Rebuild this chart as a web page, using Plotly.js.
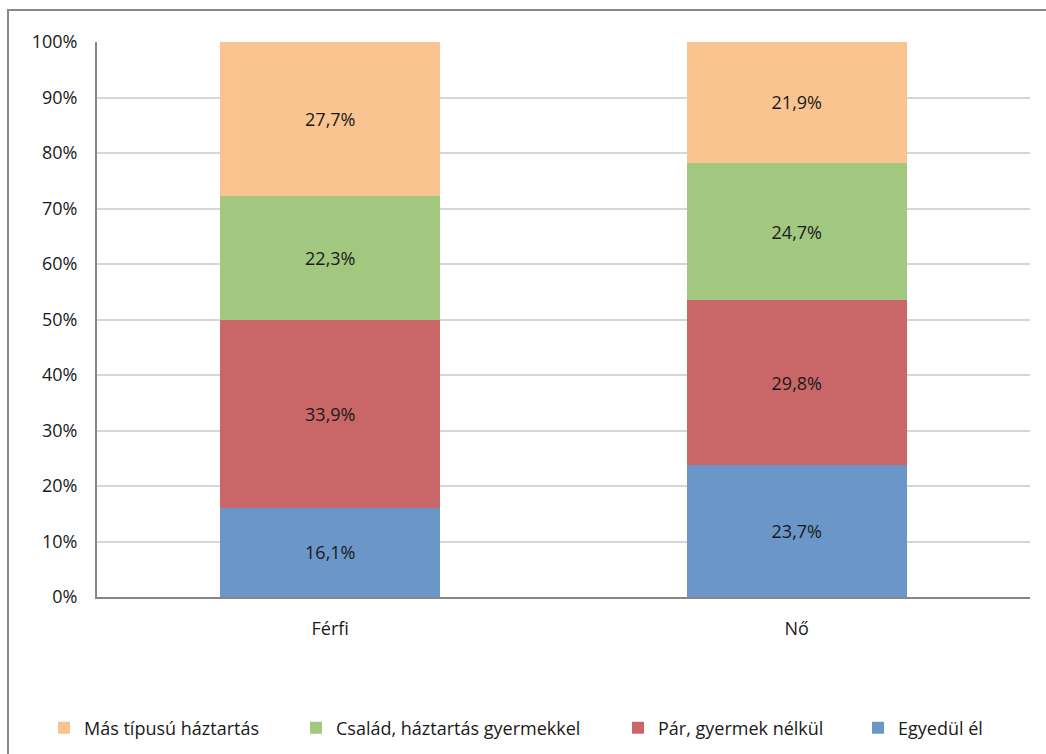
<!DOCTYPE html>
<html>
<head>
<meta charset="utf-8">
<script src="https://cdn.plot.ly/plotly-3.0.1.min.js"></script>
<style>
  html, body { margin: 0; padding: 0; background: #fff; }
  #chart { width: 1046px; height: 754px; }
</style>
</head>
<body>
<div id="chart"></div>
<script>
// ==================================================
// Data
// ==================================================

const categories = ["Férfi", "Nő"];

const seriesNames = [
  "Egyedül él",
  "Pár, gyermek nélkül",
  "Család, háztartás gyermekkel",
  "Más típusú háztartás",
];

const egyedul = [16.1, 23.7];
const parNelkul = [33.9, 29.8];
const csalad = [22.3, 24.7];
const masTipusu = [27.7, 21.9];

const yTickVals = [0, 10, 20, 30, 40, 50, 60, 70, 80, 90, 100];

// ==================================================
// Styling
// ==================================================

const colors = ["#6a96c8", "#c96768", "#a2c77f", "#fac491"];
const FONT = "'Open Sans', 'Noto Sans', sans-serif";
const FS = 18;
const W = 1046, H = 754;

// legend left edges in pixels (Excel does not space them evenly)
const legendPx = [858, 618, 296, 44];

const plotLeft = 97, plotRight = 1030, plotTop = 42, plotBottom = 597;
const pw = plotRight - plotLeft, ph = plotBottom - plotTop;
const px = x => (x - plotLeft) / pw;
const py = y => (plotBottom - y) / ph;

const fmt = v => v.toFixed(1).replace(".", ",") + "%";

const values = [egyedul, parNelkul, csalad, masTipusu];

const traces = values.map((vals, i) => ({
  type: "bar",
  name: seriesNames[i],
  x: categories,
  y: vals,
  text: vals.map(fmt),
  textposition: "inside",
  insidetextanchor: "middle",
  textangle: 0,
  textfont: { family: FONT, size: FS, color: "#1a1a1a" },
  marker: { color: colors[i], line: { width: 0 } },
  legend: i === 0 ? "legend" : "legend" + (i + 1),
  hoverinfo: "skip",
}));

function legendAt(i) {
  return {
    xref: "container",
    yref: "container",
    x: legendPx[i] / W,
    y: 1 - 728 / H,
    xanchor: "left",
    yanchor: "middle",
    orientation: "h",
    bgcolor: "rgba(0,0,0,0)",
    itemwidth: 30,
    font: { family: FONT, size: FS, color: "#1a1a1a" },
  };
}

const layout = {
  width: W,
  height: H,
  margin: { l: plotLeft, r: W - plotRight, t: plotTop, b: H - plotBottom },
  paper_bgcolor: "#ffffff",
  plot_bgcolor: "#ffffff",
  barmode: "stack",
  bargap: 0.528,
  font: { family: FONT, size: FS, color: "#1a1a1a" },
  showlegend: true,
  legend: legendAt(0),
  legend2: legendAt(1),
  legend3: legendAt(2),
  legend4: legendAt(3),
  xaxis: {
    showgrid: false,
    showline: true,
    linecolor: "#868686",
    linewidth: 2,
    ticks: "outside",
    ticklen: 14,
    tickcolor: "rgba(0,0,0,0)",
    tickfont: { family: FONT, size: FS, color: "#1a1a1a" },
    fixedrange: true,
  },
  yaxis: {
    range: [0, 100],
    tickvals: yTickVals,
    ticktext: yTickVals.map(v => v + "%"),
    showgrid: true,
    gridcolor: "#d6d6d6",
    gridwidth: 2,
    zeroline: false,
    showline: true,
    linecolor: "#868686",
    linewidth: 2,
    ticks: "outside",
    ticklen: 14,
    tickcolor: "rgba(0,0,0,0)",
    tickfont: { family: FONT, size: FS, color: "#1a1a1a" },
    fixedrange: true,
  },
  shapes: [
    {
      type: "rect",
      xref: "paper",
      yref: "paper",
      x0: px(8),
      x1: px(1060),
      y0: py(770),
      y1: py(10),
      line: { color: "#898989", width: 2 },
      fillcolor: "rgba(0,0,0,0)",
      layer: "below",
    },
  ],
};

Plotly.newPlot("chart", traces, layout, { displayModeBar: false, staticPlot: true });
</script>
</body>
</html>
